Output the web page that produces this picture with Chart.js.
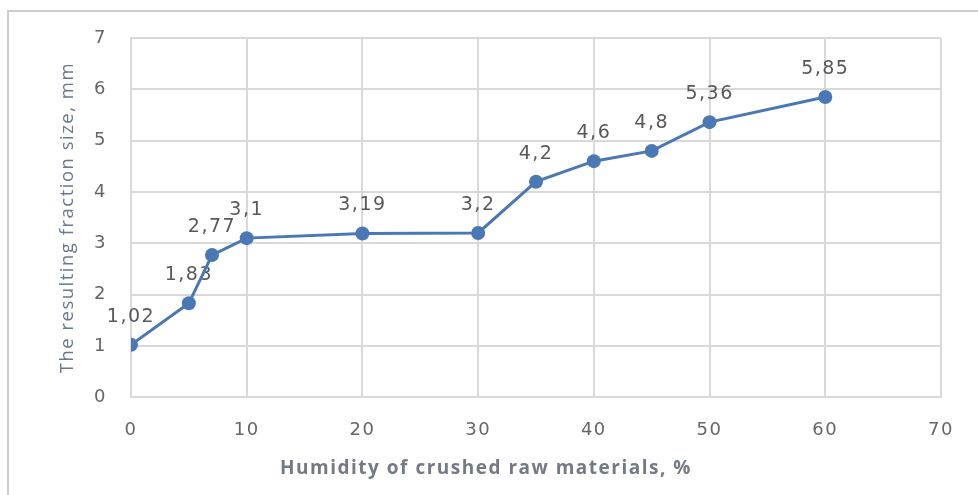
<!DOCTYPE html>
<html>
<head>
<meta charset="utf-8">
<script src="https://cdn.jsdelivr.net/npm/chart.js@4/dist/chart.umd.min.js"></script>
<style>
  html, body { margin: 0; padding: 0; background: #fff; overflow: hidden; }
  #wrap { position: relative; width: 978px; height: 495px; }
  #frame { position: absolute; left: 7px; top: 10px; width: 1000px; height: 520px; border: 2px solid #cdcdcd; }
  #chart { position: absolute; left: 0; top: 0; }
</style>
</head>
<body>
<div id="wrap">
  <div id="frame"></div>
  <canvas id="chart" width="978" height="495"></canvas>
</div>
<script>
// humidity of crushed raw materials, %
const humidity = [0, 5, 7, 10, 20, 30, 35, 40, 45, 50, 60];
// resulting fraction size, mm
const fractionSize = [1.02, 1.83, 2.77, 3.1, 3.19, 3.2, 4.2, 4.6, 4.8, 5.36, 5.85];
const xTickValues = [0, 10, 20, 30, 40, 50, 60, 70];
const yTickValues = [0, 1, 2, 3, 4, 5, 6, 7];

const gridColor = '#d9d9d9';
const lineColor = '#4a78b5';

// all text in the picture is a bit wide, so space the letters out
const spacing = {
    id: 'spacing',
    beforeDraw(chart) {
        chart.ctx.letterSpacing = '1.5px';
    }
};

// value labels above each point, decimal comma
const valueLabels = {
    id: 'valueLabels',
    beforeDatasetsDraw(chart) {
        const ctx = chart.ctx;
        const meta = chart.getDatasetMeta(0);
        ctx.save();
        ctx.font = '19px "DejaVu Sans"';
        ctx.fillStyle = '#595959';
        ctx.textAlign = 'center';
        ctx.textBaseline = 'middle';
        meta.data.forEach((pt, i) => {
            ctx.fillText(String(fractionSize[i]).replace('.', ','), pt.x, pt.y - 28);
        });
        ctx.restore();
    }
};

const chart = new Chart(document.getElementById('chart'), {
    type: 'line',
    data: {
        datasets: [{
            data: humidity.map((h, i) => ({ x: h, y: fractionSize[i] })),
            borderColor: lineColor,
            backgroundColor: lineColor,
            borderWidth: 3,
            pointRadius: 7,
            pointBorderWidth: 0,
            tension: 0
        }]
    },
    options: {
        responsive: false,
        animation: false,
        layout: { padding: { left: 31, right: 37, top: 38, bottom: 0 } },
        plugins: {
            legend: { display: false },
            tooltip: { enabled: false },
            title: {
                display: true,
                position: 'bottom',
                text: 'Humidity of crushed raw materials, %',
                color: '#737a85',
                font: { family: 'Open Sans', size: 19, weight: 'bold' },
                padding: { top: 20, bottom: 15 }
            }
        },
        scales: {
            x: {
                type: 'linear',
                min: 0,
                max: 70,
                afterBuildTicks: s => { s.ticks = xTickValues.map(v => ({ value: v })); },
                afterFit: s => { s.height = 40; },
                grid: { color: gridColor, lineWidth: 2, drawTicks: false },
                border: { color: gridColor, width: 2 },
                ticks: { color: '#666666', font: { family: 'DejaVu Sans', size: 18 }, padding: 22, maxRotation: 0 }
            },
            y: {
                min: 0,
                max: 7,
                afterBuildTicks: s => { s.ticks = yTickValues.map(v => ({ value: v })); },
                afterFit: s => { s.width = 100; },
                grid: { color: gridColor, lineWidth: 2, drawTicks: false },
                border: { color: gridColor, width: 2 },
                ticks: { color: '#666666', font: { family: 'DejaVu Sans', size: 18 }, padding: 24 },
                title: {
                    display: true,
                    text: 'The resulting fraction size, mm',
                    color: '#6a7890',
                    font: { family: 'Open Sans', size: 18.5 },
                    padding: { top: 26, bottom: 0 }
                }
            }
        }
    },
    plugins: [spacing, valueLabels]
});
</script>
</body>
</html>
